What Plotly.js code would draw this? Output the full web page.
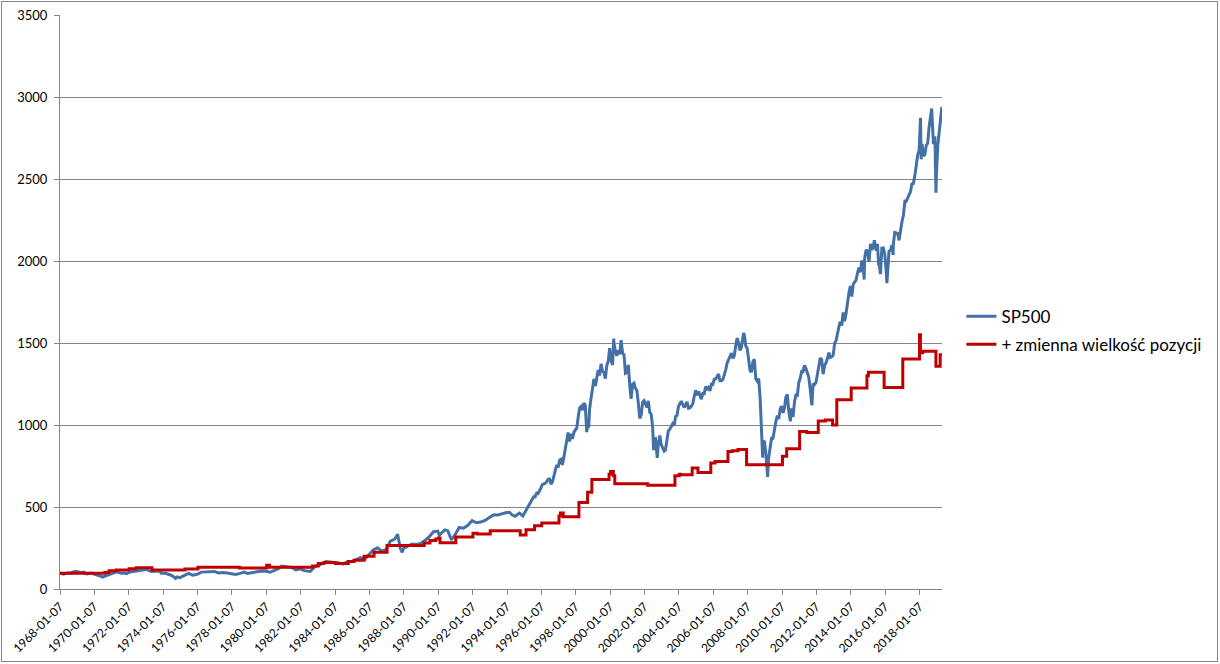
<!DOCTYPE html>
<html>
<head>
<meta charset="utf-8">
<script src="https://cdn.plot.ly/plotly-3.0.1.min.js"></script>
<style>
  html, body { margin: 0; padding: 0; background: #fff; }
  #chart { width: 1220px; height: 664px; position: relative; }
  #frame {
    position: absolute; left: 1px; top: 1px; width: 1215px; height: 659px;
    border: 1px solid #878787; pointer-events: none;
  }
</style>
</head>
<body>
<div id="chart"></div>
<div id="frame"></div>
<script>
// SP500 weekly-ish closes (monthly after 1995, a few weekly extremes)
var spDates = [
  '1968-01-07','1968-03-28','1968-05-28','1968-08-28','1968-11-28',
  '1969-01-28','1969-03-28','1969-05-28','1969-07-28','1969-10-28','1969-12-28',
  '1970-02-28','1970-05-28','1970-06-28','1970-09-28','1970-12-28',
  '1971-04-28','1971-07-28','1971-09-28','1971-11-28',
  '1972-01-28','1972-05-28','1972-08-28','1972-10-28','1972-12-28',
  '1973-01-11','1973-04-28','1973-07-28','1973-10-28','1973-11-28',
  '1974-02-28','1974-05-28','1974-07-28','1974-09-28','1974-10-28','1974-12-28',
  '1975-03-28','1975-06-28','1975-09-28','1975-12-28',
  '1976-03-28','1976-06-28','1976-09-28','1976-12-28',
  '1977-03-28','1977-06-28','1977-09-28','1977-12-28',
  '1978-03-28','1978-06-28','1978-09-28','1978-11-28',
  '1979-03-28','1979-06-28','1979-09-28','1979-12-28',
  '1980-03-28','1980-06-28','1980-09-28','1980-11-28',
  '1981-03-28','1981-06-28','1981-09-28','1981-12-28',
  '1982-03-28','1982-07-28','1982-10-28','1982-12-28',
  '1983-03-28','1983-06-28','1983-09-28','1983-12-28',
  '1984-03-28','1984-06-28','1984-09-28','1984-12-28',
  '1985-03-28','1985-06-28','1985-09-28','1985-12-28',
  '1986-03-28','1986-06-28','1986-09-28','1986-12-28',
  '1987-03-28','1987-06-28','1987-08-28','1987-10-23','1987-12-04','1987-12-28',
  '1988-03-28','1988-06-28','1988-09-28','1988-12-28',
  '1989-03-28','1989-06-28','1989-09-28','1989-12-28',
  '1990-01-28','1990-05-28','1990-07-28','1990-10-12','1990-12-28',
  '1991-03-28','1991-06-28','1991-09-28','1991-12-28',
  '1992-03-28','1992-06-28','1992-09-28','1992-12-28',
  '1993-03-28','1993-06-28','1993-09-28','1993-12-28',
  '1994-02-28','1994-04-28','1994-06-28','1994-09-28','1994-12-09','1994-12-28',
  '1995-01-28','1995-02-28','1995-03-28','1995-04-28','1995-05-28','1995-06-28','1995-07-28','1995-08-28','1995-09-28','1995-10-28','1995-11-28','1995-12-28',
  '1996-01-28','1996-02-28','1996-03-28','1996-04-28','1996-05-28','1996-06-28','1996-07-28','1996-08-28','1996-09-28','1996-10-28','1996-11-28','1996-12-28',
  '1997-01-28','1997-02-28','1997-03-28','1997-04-28','1997-05-28','1997-06-28','1997-07-28','1997-08-28','1997-09-28','1997-10-28','1997-11-28','1997-12-28',
  '1998-01-28','1998-02-28','1998-03-28','1998-04-28','1998-05-28','1998-06-28','1998-07-28','1998-08-28','1998-09-28','1998-10-09','1998-10-28','1998-11-28','1998-12-28',
  '1999-01-28','1999-02-28','1999-03-28','1999-04-28','1999-05-28','1999-06-28','1999-07-28','1999-08-28','1999-09-28','1999-10-28','1999-11-28','1999-12-28',
  '2000-01-28','2000-02-28','2000-03-24','2000-03-28','2000-04-28','2000-05-28','2000-06-28','2000-07-28','2000-08-28','2000-09-28','2000-10-28','2000-11-28','2000-12-28',
  '2001-01-28','2001-02-28','2001-03-28','2001-04-28','2001-05-28','2001-06-28','2001-07-28','2001-08-28','2001-09-28','2001-10-28','2001-11-28','2001-12-28',
  '2002-01-28','2002-02-28','2002-03-28','2002-04-28','2002-05-28','2002-06-28','2002-07-19','2002-07-28','2002-08-28','2002-09-28','2002-10-04','2002-10-28','2002-11-28','2002-12-28',
  '2003-01-28','2003-02-28','2003-03-28','2003-04-28','2003-05-28','2003-06-28','2003-07-28','2003-08-28','2003-09-28','2003-10-28','2003-11-28','2003-12-28',
  '2004-01-28','2004-02-28','2004-03-28','2004-04-28','2004-05-28','2004-06-28','2004-07-28','2004-08-28','2004-09-28','2004-10-28','2004-11-28','2004-12-28',
  '2005-01-28','2005-02-28','2005-03-28','2005-04-28','2005-05-28','2005-06-28','2005-07-28','2005-08-28','2005-09-28','2005-10-28','2005-11-28','2005-12-28',
  '2006-01-28','2006-02-28','2006-03-28','2006-04-28','2006-05-28','2006-06-28','2006-07-28','2006-08-28','2006-09-28','2006-10-28','2006-11-28','2006-12-28',
  '2007-01-28','2007-02-28','2007-03-28','2007-04-28','2007-05-28','2007-06-28','2007-07-28','2007-08-28','2007-09-28','2007-10-12','2007-10-28','2007-11-28','2007-12-28',
  '2008-01-28','2008-02-28','2008-03-28','2008-04-28','2008-05-28','2008-06-28','2008-07-28','2008-08-28','2008-09-28','2008-10-28','2008-11-21','2008-11-28','2008-12-28',
  '2009-01-28','2009-02-28','2009-03-06','2009-03-28','2009-04-28','2009-05-28','2009-06-28','2009-07-28','2009-08-28','2009-09-28','2009-10-28','2009-11-28','2009-12-28',
  '2010-01-28','2010-02-28','2010-03-28','2010-04-28','2010-05-28','2010-06-28','2010-07-02','2010-07-28','2010-08-28','2010-09-28','2010-10-28','2010-11-28','2010-12-28',
  '2011-01-28','2011-02-28','2011-03-28','2011-04-28','2011-05-28','2011-06-28','2011-07-28','2011-08-28','2011-09-28','2011-10-03','2011-10-28','2011-11-28','2011-12-28',
  '2012-01-28','2012-02-28','2012-03-28','2012-04-28','2012-05-28','2012-06-28','2012-07-28','2012-08-28','2012-09-28','2012-10-28','2012-11-28','2012-12-28',
  '2013-01-28','2013-02-28','2013-03-28','2013-04-28','2013-05-28','2013-06-28','2013-07-28','2013-08-28','2013-09-28','2013-10-28','2013-11-28','2013-12-28',
  '2014-01-28','2014-02-28','2014-03-28','2014-04-28','2014-05-28','2014-06-28','2014-07-28','2014-08-28','2014-09-28','2014-10-17','2014-10-28','2014-11-28','2014-12-28',
  '2015-01-28','2015-02-28','2015-03-28','2015-04-28','2015-05-22','2015-06-28','2015-07-28','2015-08-21','2015-08-28','2015-09-28','2015-10-28','2015-11-28','2015-12-28',
  '2016-01-28','2016-02-12','2016-02-28','2016-03-28','2016-04-28','2016-05-28','2016-06-24','2016-06-28','2016-07-28','2016-08-28','2016-09-28','2016-10-28','2016-11-28','2016-12-28',
  '2017-01-28','2017-02-28','2017-03-28','2017-04-28','2017-05-28','2017-06-28','2017-07-28','2017-08-28','2017-09-28','2017-10-28','2017-11-28','2017-12-28',
  '2018-01-26','2018-02-09','2018-02-28','2018-03-28','2018-04-28','2018-05-28','2018-06-28','2018-07-28','2018-08-28','2018-09-21','2018-10-28','2018-11-28','2018-12-21','2018-12-28',
  '2019-01-28','2019-02-28','2019-03-28','2019-04-26'
];
var spValues = [
  96, 90, 98, 99, 108,
  103, 101, 103, 92, 97, 92,
  89, 77, 73, 84, 92,
  104, 96, 98, 94,
  104, 109, 111, 112, 118,
  120, 107, 108, 110, 96,
  96, 87, 79, 64, 74, 69,
  83, 95, 84, 90,
  103, 104, 105, 107,
  98, 100, 97, 95,
  89, 95, 103, 95,
  102, 103, 109, 108,
  102, 114, 125, 140,
  136, 131, 116, 123,
  112, 107, 134, 141,
  153, 168, 166, 165,
  159, 153, 166, 167,
  181, 192, 182, 211,
  238, 251, 231, 242,
  292, 304, 334, 248, 223, 247,
  259, 274, 272, 278,
  295, 318, 349, 353,
  329, 361, 356, 300, 330,
  375, 371, 388, 417,
  404, 408, 418, 436,
  452, 451, 459, 466,
  467, 451, 444, 463, 446, 459,
  470, 487, 501, 515, 533, 545, 562, 562, 584, 582, 605, 616,
  636, 640, 645, 654, 669, 671, 640, 652, 687, 705, 757, 741,
  786, 791, 757, 801, 848, 885, 954, 899, 947, 915, 955, 970,
  980, 1049, 1102, 1112, 1091, 1134, 1121, 957, 1017, 984, 1099, 1164, 1229,
  1280, 1238, 1286, 1335, 1302, 1373, 1329, 1320, 1283, 1363, 1389, 1469,
  1394, 1366, 1527, 1499, 1452, 1421, 1455, 1431, 1518, 1437, 1429, 1315, 1320,
  1366, 1240, 1160, 1249, 1256, 1224, 1211, 1134, 1041, 1060, 1139, 1148,
  1130, 1107, 1147, 1077, 1067, 990, 847, 912, 916, 815, 800, 886, 936, 880,
  856, 841, 848, 917, 964, 975, 990, 1008, 996, 1051, 1058, 1112,
  1131, 1145, 1126, 1107, 1121, 1141, 1102, 1104, 1115, 1130, 1174, 1212,
  1181, 1204, 1181, 1157, 1192, 1191, 1234, 1220, 1229, 1207, 1249, 1248,
  1280, 1281, 1295, 1311, 1270, 1270, 1277, 1304, 1336, 1378, 1401, 1418,
  1438, 1407, 1421, 1482, 1531, 1503, 1455, 1474, 1527, 1561, 1549, 1481, 1468,
  1379, 1331, 1323, 1386, 1400, 1280, 1267, 1283, 1166, 969, 800, 896, 903,
  826, 735, 683, 798, 873, 919, 919, 987, 1021, 1057, 1036, 1096, 1115,
  1074, 1104, 1169, 1187, 1089, 1031, 1022, 1102, 1049, 1141, 1183, 1181, 1258,
  1286, 1327, 1326, 1364, 1345, 1321, 1292, 1219, 1131, 1120, 1253, 1247, 1258,
  1312, 1366, 1408, 1398, 1310, 1362, 1379, 1407, 1441, 1412, 1416, 1426,
  1498, 1515, 1569, 1598, 1631, 1606, 1686, 1633, 1682, 1757, 1806, 1848,
  1783, 1859, 1872, 1884, 1924, 1960, 1931, 2003, 1972, 1887, 2018, 2068, 2059,
  1995, 2105, 2068, 2086, 2126, 2063, 2104, 1971, 1989, 1920, 2079, 2080, 2044,
  1940, 1865, 1932, 2060, 2065, 2097, 2037, 2099, 2174, 2171, 2168, 2126, 2199, 2239,
  2279, 2364, 2363, 2384, 2412, 2423, 2470, 2472, 2519, 2575, 2648, 2674,
  2873, 2620, 2714, 2641, 2648, 2705, 2718, 2816, 2902, 2930, 2712, 2760, 2417, 2507,
  2704, 2784, 2834, 2940
];

// "+ zmienna wielkość pozycji" - step-like equity line
var posDates = [
  '1968-01-07','1970-08-15','1970-11-15','1971-04-15','1972-01-15','1972-06-15','1973-05-15',
  '1975-04-15','1976-01-15','1978-06-15','1980-01-15','1980-03-15','1982-09-15','1983-01-15',
  '1983-05-15','1984-01-15','1984-10-15','1985-02-15','1985-09-15','1986-04-15','1987-01-15',
  '1989-03-15','1989-07-15','1989-11-15','1990-01-15','1990-02-15','1991-01-15','1992-01-15',
  '1992-04-15','1993-01-15','1994-10-15','1995-02-15','1995-08-15','1996-01-15','1997-01-15',
  '1997-02-15','1997-04-15','1998-03-15','1998-09-15','1998-12-15','1999-12-15','2000-01-15',
  '2000-03-15','2000-04-15','2002-03-15','2003-10-15','2004-01-15','2004-02-15','2004-10-15',
  '2005-02-15','2005-11-15','2006-02-15','2006-11-15','2007-02-15','2007-06-15','2007-12-15',
  '2010-01-15','2010-04-15','2011-01-15','2011-06-15','2012-02-15','2012-07-15','2012-12-15',
  '2013-03-15','2014-01-15','2014-12-15','2015-01-15','2015-12-15','2017-01-15','2018-01-05',
  '2018-01-25','2018-03-15','2018-12-20','2019-03-20','2019-04-26'
];
var posValues = [
  96, 100, 112, 116, 124, 130, 116,
  122, 132, 128, 145, 132, 140, 155,
  162, 155, 168, 176, 200, 224, 265,
  280, 295, 305, 311, 282, 317, 340,
  335, 355, 330, 362, 385, 402, 445,
  463, 440, 528, 590, 667, 700, 717,
  690, 642, 632, 690, 700, 697, 738,
  711, 768, 778, 839, 843, 850, 758,
  810, 855, 961, 955, 1025, 1030, 1000,
  1154, 1225, 1300, 1321, 1228, 1402, 1551,
  1440, 1449, 1358, 1429, 1429
];

var spTrace = {
  x: spDates,
  y: spValues,
  type: 'scatter',
  mode: 'lines',
  name: 'SP500',
  legendgroup: 'sp',
  line: { color: '#4470A8', width: 3 }
};

var posTrace = {
  x: posDates,
  y: posValues,
  type: 'scatter',
  mode: 'lines',
  name: '+ zmienna wielkość pozycji',
  legendgroup: 'pos',
  line: { color: '#C00000', width: 3, shape: 'hv' }
};

var axisGrey = '#868686';

var layout = {
  width: 1220,
  height: 664,
  margin: { l: 60, r: 278, t: 15, b: 75 },
  paper_bgcolor: 'rgba(0, 0, 0, 0)',
  plot_bgcolor: '#fff',
  font: { family: 'Lato, "Open Sans", sans-serif', size: 12, color: '#000' },
  showlegend: true,
  legend: {
    x: 1.022, xanchor: 'left',
    y: 0.45, yanchor: 'middle',
    traceorder: 'grouped',
    tracegroupgap: 3,
    font: { size: 17, color: '#000' },
    bgcolor: 'rgba(0, 0, 0, 0)'
  },
  xaxis: {
    type: 'date',
    range: ['1968-01-07', '2019-04-28'],
    tick0: '1968-01-07',
    dtick: 'M24',
    tickformat: '%Y-%m-%d',
    tickangle: -45,
    ticks: 'outside',
    ticklen: 5,
    tickcolor: axisGrey,
    showline: true,
    linecolor: axisGrey,
    showgrid: false,
    zeroline: false
  },
  yaxis: {
    range: [0, 3500],
    dtick: 500,
    ticks: 'outside',
    ticklen: 5,
    tickcolor: axisGrey,
    tickfont: { size: 13 },
    showline: true,
    linecolor: axisGrey,
    gridcolor: axisGrey,
    zeroline: false,
    ticklabelstandoff: 4
  }
};

Plotly.newPlot('chart', [spTrace, posTrace], layout, { displayModeBar: false, staticPlot: true });
</script>
</body>
</html>
